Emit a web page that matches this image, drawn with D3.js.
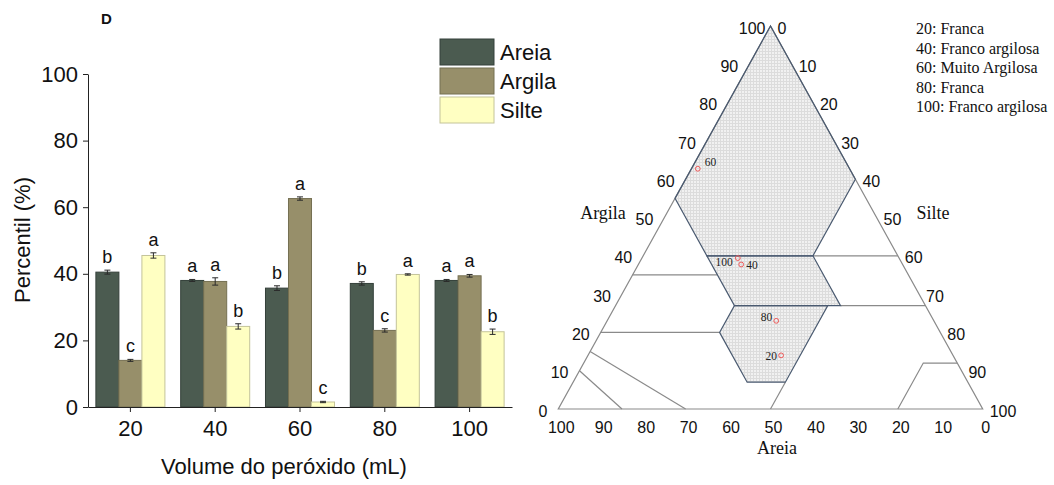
<!DOCTYPE html>
<html>
<head>
<meta charset="utf-8">
<script src="https://cdn.jsdelivr.net/npm/d3@7"></script>
<style>
  body { margin: 0; background: #fff; }
  svg { display: block; }
</style>
</head>
<body>
<svg id="chart" width="1054" height="485"></svg>
<script>
// --- data ---
const volumes = ["20", "40", "60", "80", "100"];
const fractions = ["Areia", "Argila", "Silte"];
const areia = [40.5, 38.0, 35.7, 37.1, 38.0];
const argila = [14.0, 37.7, 62.6, 23.0, 39.4];
const silte = [45.5, 24.2, 1.5, 39.8, 22.6];
const areiaErr = [0.6, 0.3, 0.7, 0.5, 0.3];
const argilaErr = [0.3, 1.1, 0.5, 0.5, 0.4];
const silteErr = [0.8, 0.8, 0.2, 0.2, 0.8];
const areiaLetters = ["b", "a", "b", "b", "a"];
const argilaLetters = ["c", "a", "a", "c", "a"];
const silteLetters = ["a", "b", "c", "a", "b"];
const yTicks = [0, 20, 40, 60, 80, 100];
const ternTicks = [0, 10, 20, 30, 40, 50, 60, 70, 80, 90, 100];
const classNames = ["Franca", "Franco argilosa", "Muito Argilosa", "Franca", "Franco argilosa"];

// USDA boundaries as [argila, silte] points
const shadedClasses = [
  [[100, 0], [55, 0], [40, 15], [40, 40], [60, 40]],
  [[40, 15], [40, 40], [27, 53], [27, 28]],
  [[27, 28], [27, 50], [7, 50], [7, 41], [20, 28]]
];
const boundaryLines = [
  [[40, 40], [40, 60]],
  [[35, 0], [35, 20]],
  [[20, 0], [20, 28]],
  [[27, 53], [27, 73]],
  [[7, 50], [0, 50]],
  [[10, 0], [0, 15]],
  [[15, 0], [0, 30]],
  [[0, 80], [12, 80], [12, 88]]
];

const colors = { Areia: "#4b5b50", Argila: "#978f6a", Silte: "#ffffc2" };
const strokes = { Areia: "#34403a", Argila: "#757052", Silte: "#c4c49a" };

const rows = volumes.map((v, i) => ({
  vol: v,
  bars: [
    { key: "Areia", value: areia[i], err: areiaErr[i], letter: areiaLetters[i] },
    { key: "Argila", value: argila[i], err: argilaErr[i], letter: argilaLetters[i] },
    { key: "Silte", value: silte[i], err: silteErr[i], letter: silteLetters[i] }
  ]
}));

const svg = d3.select("#chart");
const sans = "'Liberation Sans', Arial, sans-serif";
const serif = "'Liberation Serif', 'Times New Roman', serif";

// --- bar chart ---
const x0 = d3.scaleBand()
  .domain(volumes)
  .range([88, 512])
  .paddingInner(0.186)
  .paddingOuter(0.093);

const x1 = d3.scaleBand()
  .domain(fractions)
  .range([0, x0.bandwidth()]);

const y = d3.scaleLinear()
  .domain([0, 100])
  .range([407, 74]);

const groups = svg.append("g")
  .selectAll("g")
  .data(rows)
  .enter()
  .append("g")
  .attr("transform", d => `translate(${x0(d.vol)},0)`);

groups.selectAll("rect")
  .data(d => d.bars)
  .enter()
  .append("rect")
  .attr("x", d => x1(d.key))
  .attr("y", d => y(d.value))
  .attr("width", x1.bandwidth())
  .attr("height", d => y(0) - y(d.value))
  .attr("fill", d => colors[d.key])
  .attr("stroke", d => strokes[d.key])
  .attr("stroke-width", 1);

// error bars
const err = groups.selectAll("g.err")
  .data(d => d.bars)
  .enter()
  .append("g")
  .attr("class", "err")
  .attr("stroke", "#2a2a2a")
  .attr("stroke-width", 1);

err.append("line")
  .attr("x1", d => x1(d.key) + x1.bandwidth() / 2)
  .attr("x2", d => x1(d.key) + x1.bandwidth() / 2)
  .attr("y1", d => y(d.value - d.err))
  .attr("y2", d => y(d.value + d.err));
err.append("line")
  .attr("x1", d => x1(d.key) + x1.bandwidth() / 2 - 3)
  .attr("x2", d => x1(d.key) + x1.bandwidth() / 2 + 3)
  .attr("y1", d => y(d.value + d.err))
  .attr("y2", d => y(d.value + d.err));
err.append("line")
  .attr("x1", d => x1(d.key) + x1.bandwidth() / 2 - 3)
  .attr("x2", d => x1(d.key) + x1.bandwidth() / 2 + 3)
  .attr("y1", d => y(d.value - d.err))
  .attr("y2", d => y(d.value - d.err));

// significance letters
groups.selectAll("text")
  .data(d => d.bars)
  .enter()
  .append("text")
  .attr("x", d => x1(d.key) + x1.bandwidth() / 2)
  .attr("y", d => y(d.value + d.err) - 7)
  .attr("text-anchor", "middle")
  .attr("font-family", sans)
  .attr("font-size", 18)
  .attr("fill", "#111")
  .text(d => d.letter);

// axes
const yAxis = svg.append("g")
  .attr("transform", "translate(88,0)")
  .call(d3.axisLeft(y).tickValues(yTicks).tickSize(5).tickSizeOuter(0).tickPadding(5));

const xAxis = svg.append("g")
  .attr("transform", "translate(0,407)")
  .call(d3.axisBottom(x0).tickSize(5).tickSizeOuter(0).tickPadding(8));

[yAxis, xAxis].forEach(a => {
  a.selectAll("text").attr("font-family", sans).attr("font-size", 22).attr("fill", "#111");
  a.selectAll("line, path").attr("stroke", "#222");
});

svg.append("text")
  .attr("transform", "translate(30,240) rotate(-90)")
  .attr("text-anchor", "middle")
  .attr("font-family", sans)
  .attr("font-size", 22)
  .attr("fill", "#111")
  .text("Percentil (%)");

svg.append("text")
  .attr("x", 284)
  .attr("y", 474)
  .attr("text-anchor", "middle")
  .attr("font-family", sans)
  .attr("font-size", 22)
  .attr("fill", "#111")
  .text("Volume do peróxido (mL)");

svg.append("text")
  .attr("x", 101)
  .attr("y", 24)
  .attr("font-family", sans)
  .attr("font-size", 15)
  .attr("font-weight", "bold")
  .attr("fill", "#111")
  .text("D");

// legend
const legend = svg.append("g")
  .attr("transform", "translate(440,39)");

const legendItem = legend.selectAll("g")
  .data(fractions)
  .enter()
  .append("g")
  .attr("transform", (d, i) => `translate(0,${i * 29})`);

legendItem.append("rect")
  .attr("width", 54)
  .attr("height", 26)
  .attr("fill", d => colors[d])
  .attr("stroke", d => strokes[d]);

legendItem.append("text")
  .attr("x", 60)
  .attr("y", 13)
  .attr("dy", "0.36em")
  .attr("font-family", sans)
  .attr("font-size", 22)
  .attr("fill", "#111")
  .text(d => d);

// --- ternary diagram ---
const tY = d3.scaleLinear().domain([0, 100]).range([409, 26]);      // argila
const tX = d3.scaleLinear().domain([0, 100]).range([558.3, 982.7]); // silte + argila/2
const tern = (clay, silt) => [tX(silt + clay / 2), tY(clay)];

const defs = svg.append("defs");
const pat = defs.append("pattern")
  .attr("id", "dots")
  .attr("patternUnits", "userSpaceOnUse")
  .attr("width", 3)
  .attr("height", 3);
pat.append("rect").attr("width", 3).attr("height", 3).attr("fill", "#f1f1f1");
pat.append("rect").attr("width", 3).attr("height", 1).attr("fill", "#dcdcdc");
pat.append("rect").attr("width", 1).attr("height", 3).attr("fill", "#dcdcdc");

const line = d3.line();
const tg = svg.append("g");

tg.selectAll("path.cls")
  .data(shadedClasses)
  .enter()
  .append("path")
  .attr("class", "cls")
  .attr("d", d => line(d.map(p => tern(p[0], p[1]))) + "Z")
  .attr("fill", "url(#dots)")
  .attr("stroke", "none");

tg.append("path")
  .attr("d", line([tern(100, 0), tern(0, 0), tern(0, 100)]) + "Z")
  .attr("fill", "none")
  .attr("stroke", "#8a8a8a")
  .attr("stroke-width", 1.2);

tg.selectAll("path.bound")
  .data(boundaryLines)
  .enter()
  .append("path")
  .attr("class", "bound")
  .attr("d", d => line(d.map(p => tern(p[0], p[1]))))
  .attr("fill", "none")
  .attr("stroke", "#8a8a8a")
  .attr("stroke-width", 1.2);

tg.selectAll("path.clsedge")
  .data(shadedClasses)
  .enter()
  .append("path")
  .attr("class", "clsedge")
  .attr("d", d => line(d.map(p => tern(p[0], p[1]))) + "Z")
  .attr("fill", "none")
  .attr("stroke", "#4a5a70")
  .attr("stroke-width", 1.2);

// tick labels
const tickText = sel => sel
  .attr("font-family", sans)
  .attr("font-size", 16)
  .attr("fill", "#111");

tg.selectAll("text.left")
  .data(ternTicks)
  .enter()
  .append("text")
  .attr("class", "left")
  .attr("x", d => tern(d, 0)[0] - (d === 100 ? 5 : 11))
  .attr("y", d => tern(d, 0)[1] + 2)
  .attr("dy", "0.35em")
  .attr("text-anchor", "end")
  .call(tickText)
  .text(d => d);

tg.selectAll("text.right")
  .data(ternTicks)
  .enter()
  .append("text")
  .attr("class", "right")
  .attr("x", d => tern(100 - d, d)[0] + 7)
  .attr("y", d => tern(100 - d, d)[1] + 2)
  .attr("dy", "0.35em")
  .attr("text-anchor", "start")
  .call(tickText)
  .text(d => d);

tg.selectAll("text.bottom")
  .data(ternTicks)
  .enter()
  .append("text")
  .attr("class", "bottom")
  .attr("x", d => tern(0, 100 - d)[0] + 3)
  .attr("y", 427)
  .attr("dy", "0.35em")
  .attr("text-anchor", "middle")
  .call(tickText)
  .text(d => d);

const axisTitle = (x, yy, t) => tg.append("text")
  .attr("x", x)
  .attr("y", yy)
  .attr("dy", "0.35em")
  .attr("text-anchor", "middle")
  .attr("font-family", serif)
  .attr("font-size", 18)
  .attr("fill", "#111")
  .text(t);
axisTitle(603, 213, "Argila");
axisTitle(933, 213, "Silte");
axisTitle(777, 448, "Areia");

// sample points, from the same fractions as the bars
const labelOffset = {
  "20": [-4, 5, "end"],
  "40": [5, 5, "start"],
  "60": [7, -3, "start"],
  "80": [-4, 0, "end"],
  "100": [-5, 8, "end"]
};
const samples = volumes.map((v, i) => {
  const total = areia[i] + argila[i] + silte[i];
  const p = tern(argila[i] / total * 100, silte[i] / total * 100);
  return { vol: v, x: p[0], y: p[1] };
});

tg.selectAll("circle.pt")
  .data(samples)
  .enter()
  .append("circle")
  .attr("class", "pt")
  .attr("cx", d => d.x)
  .attr("cy", d => d.y)
  .attr("r", 2.4)
  .attr("fill", "none")
  .attr("stroke", "#ee5a5a")
  .attr("stroke-width", 1);

tg.selectAll("text.pt")
  .data(samples)
  .enter()
  .append("text")
  .attr("class", "pt")
  .attr("x", d => d.x + labelOffset[d.vol][0])
  .attr("y", d => d.y + labelOffset[d.vol][1])
  .attr("text-anchor", d => labelOffset[d.vol][2])
  .attr("font-family", serif)
  .attr("font-size", 11.5)
  .attr("fill", "#222")
  .text(d => d.vol);

// class legend
svg.append("g")
  .selectAll("text")
  .data(volumes)
  .enter()
  .append("text")
  .attr("x", 916)
  .attr("y", (d, i) => 34 + i * 19.5)
  .attr("font-family", serif)
  .attr("font-size", 16)
  .attr("fill", "#111")
  .text((d, i) => `${d}: ${classNames[i]}`);
</script>
</body>
</html>
